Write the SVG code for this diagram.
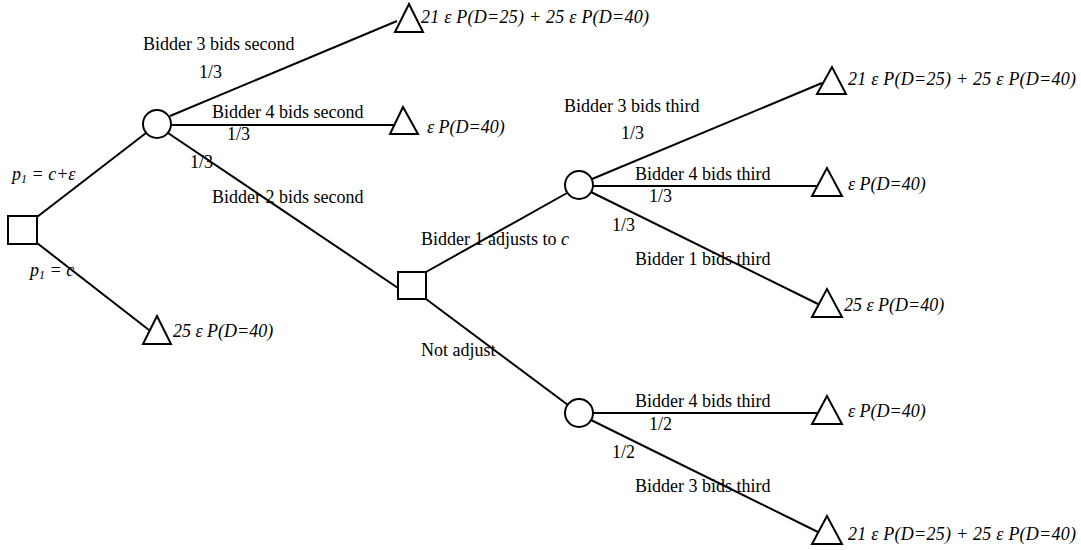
<svg xmlns="http://www.w3.org/2000/svg" width="1081" height="550" viewBox="0 0 1081 550">
<style>
.ln{stroke:#000;stroke-width:2;fill:none}
.nd{stroke:#000;stroke-width:2;fill:#fff}
text{font-family:"Liberation Serif","Times New Roman",serif;font-size:18px;fill:#000}
.it{font-style:italic}
</style>
<rect width="1081" height="550" fill="#fff"/>
<g id="connectors">
<line class="ln" x1="37" y1="217" x2="146" y2="133"/>
<line class="ln" x1="37" y1="243" x2="149" y2="330"/>
<line class="ln" x1="170" y1="116" x2="397" y2="21"/>
<line class="ln" x1="171" y1="125" x2="394" y2="125"/>
<line class="ln" x1="168" y1="133" x2="398" y2="288"/>
<line class="ln" x1="426" y1="272" x2="567" y2="193"/>
<line class="ln" x1="426" y1="299" x2="568" y2="405"/>
<line class="ln" x1="592" y1="179" x2="822" y2="83"/>
<line class="ln" x1="593" y1="186" x2="817" y2="186"/>
<line class="ln" x1="591" y1="192" x2="818" y2="304"/>
<line class="ln" x1="593" y1="413" x2="817" y2="413"/>
<line class="ln" x1="591" y1="420" x2="818" y2="532"/>
</g>
<g id="labels">
<text x="143" y="50">Bidder 3 bids second</text>
<text x="199" y="78">1/3</text>
<text x="212" y="118">Bidder 4 bids second</text>
<text x="227" y="140">1/3</text>
<text x="190" y="168">1/3</text>
<text x="212" y="203">Bidder 2 bids second</text>
<text class="it" x="12" y="180">p<tspan font-size="12" dy="3">1</tspan><tspan dy="-3"> = c+ε</tspan></text>
<text class="it" x="30" y="276">p<tspan font-size="12" dy="3">1</tspan><tspan dy="-3"> = c</tspan></text>
<text x="564" y="112">Bidder 3 bids third</text>
<text x="621" y="139">1/3</text>
<text x="635" y="180">Bidder 4 bids third</text>
<text x="649" y="202">1/3</text>
<text x="612" y="231">1/3</text>
<text x="421" y="245">Bidder 1 adjusts to <tspan class="it">c</tspan></text>
<text x="635" y="265">Bidder 1 bids third</text>
<text x="421" y="356">Not adjust</text>
<text x="635" y="407">Bidder 4 bids third</text>
<text x="649" y="430">1/2</text>
<text x="612" y="458">1/2</text>
<text x="635" y="492">Bidder 3 bids third</text>
</g>
<g id="root"><rect class="nd" x="8" y="216" width="29" height="28"/></g>
<g id="chance1"><circle class="nd" cx="157" cy="124" r="14"/></g>
<g id="decision2"><rect class="nd" x="398" y="272" width="28" height="27"/></g>
<g id="chance2"><circle class="nd" cx="579" cy="185" r="14"/></g>
<g id="chance3"><circle class="nd" cx="579" cy="413" r="14"/></g>
<g id="leaf1"><polygon class="nd" points="409,4 395,32 423,32"/><text class="it" x="421" y="23" textLength="228">21 ε P(D=25) + 25 ε P(D=40)</text></g>
<g id="leaf2"><polygon class="nd" points="403,107 390,134 418,134"/><text class="it" x="427" y="133">ε P(D=40)</text></g>
<g id="leaf3"><polygon class="nd" points="157,316 143,344 171,344"/><text class="it" x="173" y="337">25 ε P(D=40)</text></g>
<g id="leaf4"><polygon class="nd" points="832,67 817,94 846,94"/><text class="it" x="848" y="85" textLength="228">21 ε P(D=25) + 25 ε P(D=40)</text></g>
<g id="leaf5"><polygon class="nd" points="827,168 812,196 842,196"/><text class="it" x="848" y="190">ε P(D=40)</text></g>
<g id="leaf6"><polygon class="nd" points="827,289 812,317 842,317"/><text class="it" x="844" y="311">25 ε P(D=40)</text></g>
<g id="leaf7"><polygon class="nd" points="827,396 812,424 842,424"/><text class="it" x="848" y="417">ε P(D=40)</text></g>
<g id="leaf8"><polygon class="nd" points="827,516 812,544 842,544"/><text class="it" x="848" y="540" textLength="228">21 ε P(D=25) + 25 ε P(D=40)</text></g>
</svg>
